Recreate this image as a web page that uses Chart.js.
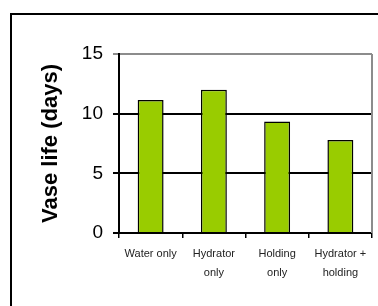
<!DOCTYPE html>
<html>
<head>
<meta charset="utf-8">
<script src="https://cdn.jsdelivr.net/npm/chart.js@4"></script>
<style>
  html, body { margin: 0; padding: 0; background: #fff; }
  #wrap { width: 378px; height: 306px; position: relative; }
</style>
</head>
<body>
<div id="wrap"><canvas id="barchart"></canvas></div>
<script>
(function() {
    "use strict";

    var treatments = [['Water only'], ['Hydrator', 'only'], ['Holding', 'only'], ['Hydrator +', 'holding']];
    var vaseLife = [11.15, 12.0, 9.35, 7.8];
    var yTicks = [0, 5, 10, 15];

    // outer frame + grey plot border on the right
    var framePlugin = {
        id: 'frame',
        beforeDraw: function(chart) {
            var ctx = chart.ctx;
            ctx.save();
            ctx.strokeStyle = '#000';
            ctx.lineWidth = 2;
            ctx.beginPath();
            ctx.moveTo(11, 306);
            ctx.lineTo(11, 14);
            ctx.lineTo(378, 14);
            ctx.stroke();
            ctx.restore();
        },
        afterDatasetsDraw: function(chart) {
            var a = chart.chartArea;
            var ctx = chart.ctx;
            ctx.save();
            ctx.strokeStyle = '#8c8c8c';
            ctx.lineWidth = 2;
            ctx.beginPath();
            ctx.moveTo(a.right, a.top);
            ctx.lineTo(a.right, a.bottom);
            ctx.stroke();
            ctx.restore();
        }
    };

    new Chart(document.getElementById('barchart'), {
        type: 'bar',
        data: {
            labels: treatments,
            datasets: [{
                label: 'Vase life',
                data: vaseLife,
                backgroundColor: '#99cc00',
                borderColor: '#000',
                borderWidth: 1.5,
                barPercentage: 0.41,
                categoryPercentage: 1,
            }]
        },
        options: {
            responsive: true,
            maintainAspectRatio: false,
            animation: false,
            layout: {
                padding: { left: 0, top: 54, right: 6, bottom: 0 }
            },
            plugins: {
                legend: { display: false },
                tooltip: { enabled: false },
            },
            scales: {
                x: {
                    afterFit: function(s) { s.height = 73; },
                    grid: {
                        offset: true,
                        drawOnChartArea: false,
                        drawTicks: true,
                        tickLength: 5,
                        color: '#000',
                        lineWidth: 1.5,
                    },
                    border: { color: '#000', width: 2 },
                    ticks: {
                        color: '#222',
                        padding: 7,
                        maxRotation: 0,
                        font: { family: 'Arial, "Liberation Sans"', size: 11, lineHeight: 1.7 },
                    },
                },
                y: {
                    min: 0,
                    max: 15,
                    afterFit: function(s) { s.width = 119; },
                    afterBuildTicks: function(s) {
                        s.ticks = yTicks.map(function(v) { return { value: v }; });
                    },
                    grid: {
                        color: function(c) { return c.tick && c.tick.value === 15 ? '#8c8c8c' : '#000'; },
                        lineWidth: 2,
                        tickLength: 6,
                    },
                    border: { color: '#000', width: 2 },
                    ticks: {
                        color: '#000',
                        padding: 10,
                        font: { family: 'Arial, "Liberation Sans"', size: 19 },
                    },
                    title: {
                        display: true,
                        text: 'Vase life (days)',
                        color: '#000',
                        padding: { top: 38, bottom: 0 },
                        font: { family: 'Arial, "Liberation Sans"', size: 22, weight: 'bold' },
                    },
                },
            },
        },
        plugins: [framePlugin],
    });

})();
</script>
</body>
</html>
